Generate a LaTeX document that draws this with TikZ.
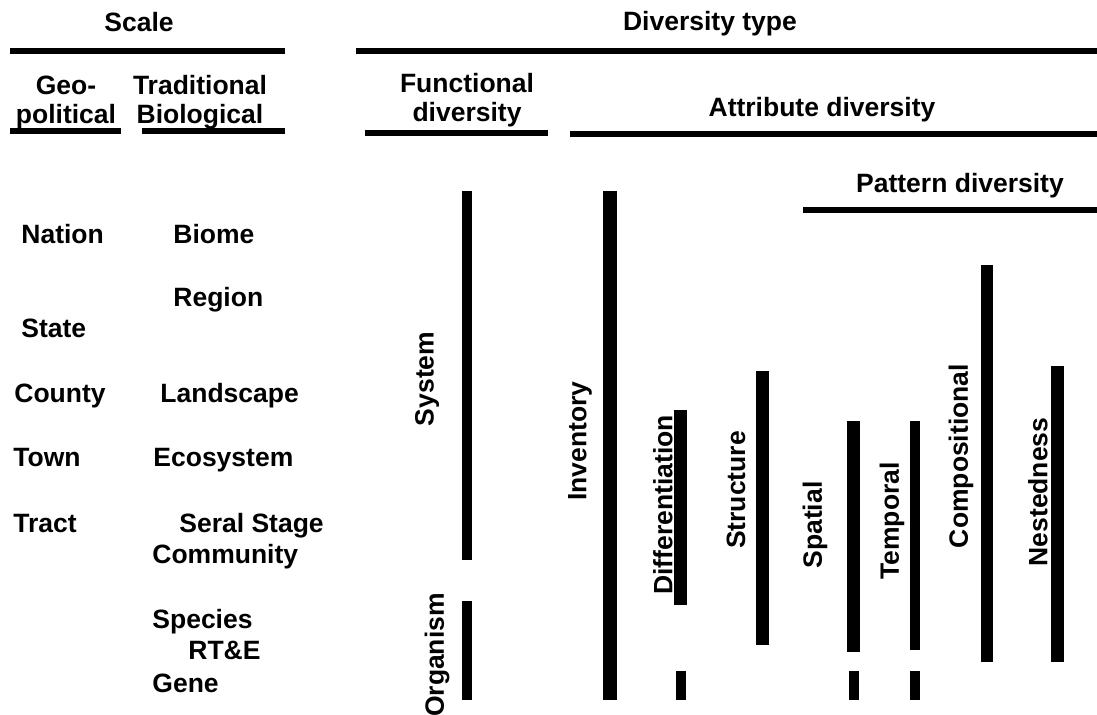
\documentclass[tikz,border=0pt]{standalone}
\usepackage{fontspec}
\setmainfont{Liberation Sans}
\usepackage{tikz}
\usetikzlibrary{positioning}

\begin{document}
\begin{tikzpicture}[x=0.5pt, y=-0.5pt]
% -------------------------------------------------
\tikzset{
  lbl/.style={font=\fontsize{13.25}{14.5}\selectfont\bfseries, inner sep=0pt},
  head/.style={lbl, anchor=base, align=center},
  lvl/.style={lbl, anchor=base west},
  side/.style={lbl, rotate=90, anchor=center},
  rule/.style={draw, line width=3pt},
  bar/.style={fill=black}
}
\useasboundingbox (0,0) rectangle (1097,715);

% headings
\node [head] (scale) at (139,32) {Scale};
\node [head] (divtype) at (710,31) {Diversity type};
\node [head] (geo) at (66,124) {Geo-\\political};
\node [head] (trad) at (200,124) {Traditional\\Biological};
\node [head] (func) at (467,122) {Functional\\diversity};
\node [head] (attr) at (822,117) {Attribute diversity};
\node [head] (patt) at (960,193) {Pattern diversity};

\path [rule] (10,51) -- (285,51);
\path [rule] (356,51) -- (1097,51);
\path [rule] (10,131.5) -- (121,131.5);
\path [rule] (142,131.5) -- (285,131.5);
\path [rule] (365,133.5) -- (548,133.5);
\path [rule] (570,134.5) -- (1097,134.5);
\path [rule] (803,210.5) -- (1097,210.5);

% scale levels
\node [lvl] (nation) at (21,244) {Nation};
\node [lvl] (state) at (21,338) {State};
\node [lvl] (county) at (14,403) {County};
\node [lvl] (town) at (13,467) {Town};
\node [lvl] (tract) at (13,532) {Tract};

\node [lvl] (biome) at (173,244) {Biome};
\node [lvl] (region) at (173,307) {Region};
\node [lvl] (landsc) at (160,403) {Landscape};
\node [lvl] (ecosys) at (153,467) {Ecosystem};
\node [lvl] (seral) at (179,532) {Seral Stage};
\node [lvl] (commun) at (152,563) {Community};
\node [lvl] (species) at (152,628) {Species};
\node [lvl] (rte) at (188,659) {RT\&E};
\node [lvl] (gene) at (152,692) {Gene};

% diversity bars
\fill [bar] (462,191) rectangle (472,560);
\fill [bar] (462,601) rectangle (472,700);
\fill [bar] (603,191) rectangle (617,700);
\fill [bar] (674,410) rectangle (687,605);
\fill [bar] (676,671) rectangle (686,700);
\fill [bar] (756,371) rectangle (769,645);
\fill [bar] (847,421) rectangle (860,652);
\fill [bar] (849,671) rectangle (859,700);
\fill [bar] (910,421) rectangle (920,650);
\fill [bar] (910,671) rectangle (920,700);
\fill [bar] (981,265) rectangle (993,662);
\fill [bar] (1051,366) rectangle (1064,662);

\node [side] (system) at (427,379) {System};
\node [side] (organism) at (437,655) {Organism};
\node [side] (invent) at (580,441) {Inventory};
\node [side] (differ) at (663,505) {Differentiation};
\node [side] (struct) at (736,490) {Structure};
\node [side] (spatial) at (815,525) {Spatial};
\node [side] (tempo) at (892,521) {Temporal};
\node [side] (compos) at (961,456) {Compositional};
\node [side] (nested) at (1038,492) {Nestedness};

\end{tikzpicture}
\end{document}
